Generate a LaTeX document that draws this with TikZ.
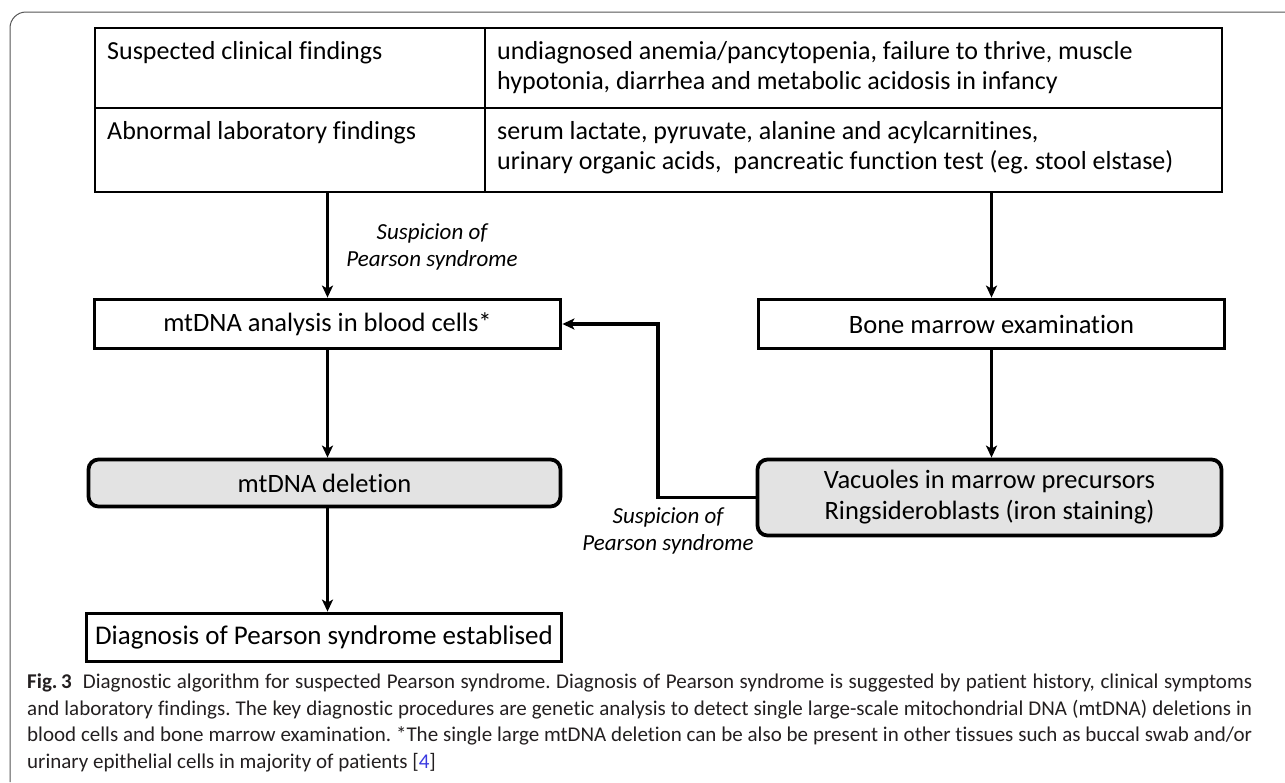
\documentclass[tikz,border=0pt]{standalone}
\usepackage{fontspec}
\setmainfont[Ligatures=CommonOff]{Carlito}
\newfontfamily\capfont[Ligatures=CommonOff]{Carlito}
\usetikzlibrary{arrows.meta,calc}
\definecolor{boxgray}{HTML}{E3E3E3}
\definecolor{capblue}{HTML}{3A3AE0}
\definecolor{capink}{HTML}{231F20}
\definecolor{framegray}{HTML}{555555}
\frenchspacing
\begin{document}
\begin{tikzpicture}[x=1pt,y=-1pt,
  cell/.style={draw=black,line width=2.5pt,rectangle,inner sep=0pt},
  celltext/.style={anchor=north west,inner sep=0pt,align=left,font=\fontsize{26}{30.5}\selectfont},
  plainbox/.style={draw=black,line width=3.8pt,rectangle,inner sep=0pt,font=\fontsize{26.5}{31}\selectfont,align=center},
  graybox/.style={plainbox,fill=boxgray,rounded corners=10pt},
  arr/.style={line width=3.2pt,-{Stealth[length=12pt,width=11pt,inset=3pt]}},
  lbl/.style={font=\fontsize{23}{27.5}\selectfont\itshape,align=center,inner sep=0pt}
]
\useasboundingbox (0,0) rectangle (1285,782);
% frame
\draw[framegray,line width=1pt,rounded corners=16pt] (10,782) -- (10,12) -- (1285,12);
% table cells
\node[cell,minimum width=390pt,minimum height=80pt] (c11) at (290,68) {};
\node[cell,minimum width=737pt,minimum height=80pt] (c12) at (853.5,68) {};
\node[cell,minimum width=390pt,minimum height=84pt] (c21) at (290,150) {};
\node[cell,minimum width=737pt,minimum height=84pt] (c22) at (853.5,150) {};
\node[celltext] (t11) at (107,41) {Suspected clinical findings};
\node[celltext] (t12) at (497,41) {undiagnosed anemia/pancytopenia, failure to thrive, muscle\\hypotonia, diarrhea and metabolic acidosis in infancy};
\node[celltext] (t21) at (107,121) {Abnormal laboratory findings};
\node[celltext] (t22) at (497,121) {serum lactate, pyruvate, alanine and acylcarnitines,\\urinary organic acids,\ \ pancreatic function test (eg. stool elstase)};
% boxes
\node[plainbox,minimum width=466pt,minimum height=49pt] (mt) at (327.5,324) {mtDNA analysis in blood cells*};
\node[plainbox,minimum width=466pt,minimum height=49pt] (bm) at (991.5,324) {Bone marrow examination};
\node[graybox,minimum width=472pt,minimum height=47pt] (del) at (324.5,483) {mtDNA deletion};
\node[graybox,minimum width=464pt,minimum height=76pt] (vac) at (989.5,497.5) {Vacuoles in marrow precursors\\Ringsideroblasts (iron staining)};
\node[plainbox,minimum width=475pt,minimum height=48pt,font=\fontsize{27}{31}\selectfont] (dx) at (324,637.5) {Diagnosis of Pearson syndrome establised};
% connectors
\draw[arr] (mt.north |- c21.south) -- (mt.north);
\draw[arr] (bm.north |- c22.south) -- (bm.north);
\draw[arr] (mt.south) -- (mt.south |- del.north);
\draw[arr] (bm.south) -- (bm.south |- vac.north);
\draw[arr] (mt.south |- del.south) -- (mt.south |- dx.north);
\coordinate (fb) at (658,0);
\draw[arr] (vac.west) -- (vac.west -| fb) |- (mt.east);
% labels
\node[lbl] (l1) at (432,247) {Suspicion of\\Pearson syndrome};
\node[lbl] (l2) at (668,531) {Suspicion of\\Pearson syndrome};
% caption
\node[anchor=north west,inner sep=0pt,text width=1225pt,align=justify,text=capink,
  font=\capfont\fontsize{21}{26.5}\selectfont] (cap) at (27,674)
{\textbf{Fig.\,3}\ \ Diagnostic algorithm for suspected Pearson syndrome. Diagnosis of Pearson syndrome is suggested by patient history, clinical symptoms\linebreak
and laboratory findings. The key diagnostic procedures are genetic analysis to detect single large-scale mitochondrial DNA (mtDNA) deletions in\linebreak
blood cells and bone marrow examination. *The single large mtDNA deletion can be also be present in other tissues such as buccal swab and/or\linebreak
urinary epithelial cells in majority of patients [{\color{capblue}4}]};
\end{tikzpicture}
\end{document}
